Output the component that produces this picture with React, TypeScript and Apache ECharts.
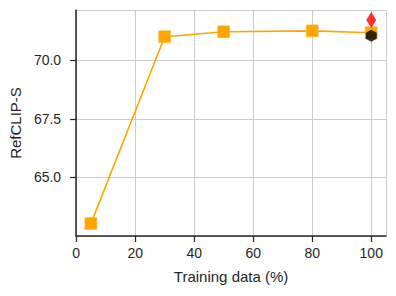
import React, { useEffect, useRef } from "react";
import * as echarts from "echarts";

const trainingPct = [5, 30, 50, 80, 100];
const refClipS = [63.03, 71.01, 71.22, 71.26, 71.18];
const redPoint = [[100, 71.72]];
const blackPoint = [[100, 71.05]];
const yTickLabels = ["65.0", "67.5", "70.0"];

export default function App() {
  const ref = useRef<HTMLDivElement>(null);
  useEffect(() => {
    const chart = echarts.init(ref.current!, null, { renderer: "svg" });
    const font = "Liberation Sans, Arial, sans-serif";
    const dark = "#262626";
    chart.setOption({
      animation: false,
      grid: { left: 74, right: 10, top: 10, bottom: 60 },
      xAxis: {
        type: "value",
        min: 0,
        max: 105,
        interval: 20,
        name: "Training data (%)",
        nameLocation: "middle",
        nameGap: 33,
        nameTextStyle: { fontFamily: font, fontSize: 15, color: dark, verticalAlign: "top" },
        axisLine: { lineStyle: { color: dark, width: 1.5 } },
        axisTick: { show: true, length: 6, lineStyle: { color: dark, width: 1.2 } },
        axisLabel: {
          fontFamily: font, fontSize: 14, color: dark, margin: 10,
          showMaxLabel: false,
          formatter: (v: number) => (v > 100 ? "" : String(v)),
        },
        splitLine: { show: true, lineStyle: { color: "#cccccc", width: 1 } },
      },
      yAxis: {
        type: "value",
        min: 62.5,
        max: 72.15,
        interval: 2.5,
        name: "RefCLIP-S",
        nameLocation: "middle",
        nameGap: 50,
        nameTextStyle: { fontFamily: font, fontSize: 15, color: dark },
        axisLine: { show: true, lineStyle: { color: dark, width: 1.5 } },
        axisTick: { show: true, length: 6, lineStyle: { color: dark, width: 1.2 } },
        axisLabel: {
          fontFamily: font, fontSize: 14, color: dark, margin: 15,
          showMinLabel: false,
          showMaxLabel: false,
          formatter: (v: number) => {
            const s = v.toFixed(1);
            return yTickLabels.includes(s) ? s : "";
          },
        },
        splitLine: { show: true, lineStyle: { color: "#cccccc", width: 1 } },
      },
      series: [
        {
          type: "line",
          data: trainingPct.map((x, i) => [x, refClipS[i]]),
          symbol: "rect",
          symbolSize: 12,
          lineStyle: { color: "#FFA500", width: 1.6 },
          itemStyle: { color: "#FFA500", borderColor: "#FFC04D", borderWidth: 0.6 },
          z: 2,
        },
        {
          type: "scatter",
          data: redPoint,
          symbol: "diamond",
          symbolSize: [10, 16],
          itemStyle: { color: "#FF0000" },
          z: 3,
        },
        {
          type: "scatter",
          data: blackPoint,
          symbol: "path://M0,-1 L0.866,-0.5 L0.866,0.5 L0,1 L-0.866,0.5 L-0.866,-0.5 Z",
          symbolSize: [11, 12],
          itemStyle: { color: "#000000" },
          z: 4,
        },
      ],
    });
    return () => chart.dispose();
  }, []);
  return (
    <div
      ref={ref}
      style={{ position: "absolute", left: 0, top: 0, width: 396, height: 296 }}
    />
  );
}
